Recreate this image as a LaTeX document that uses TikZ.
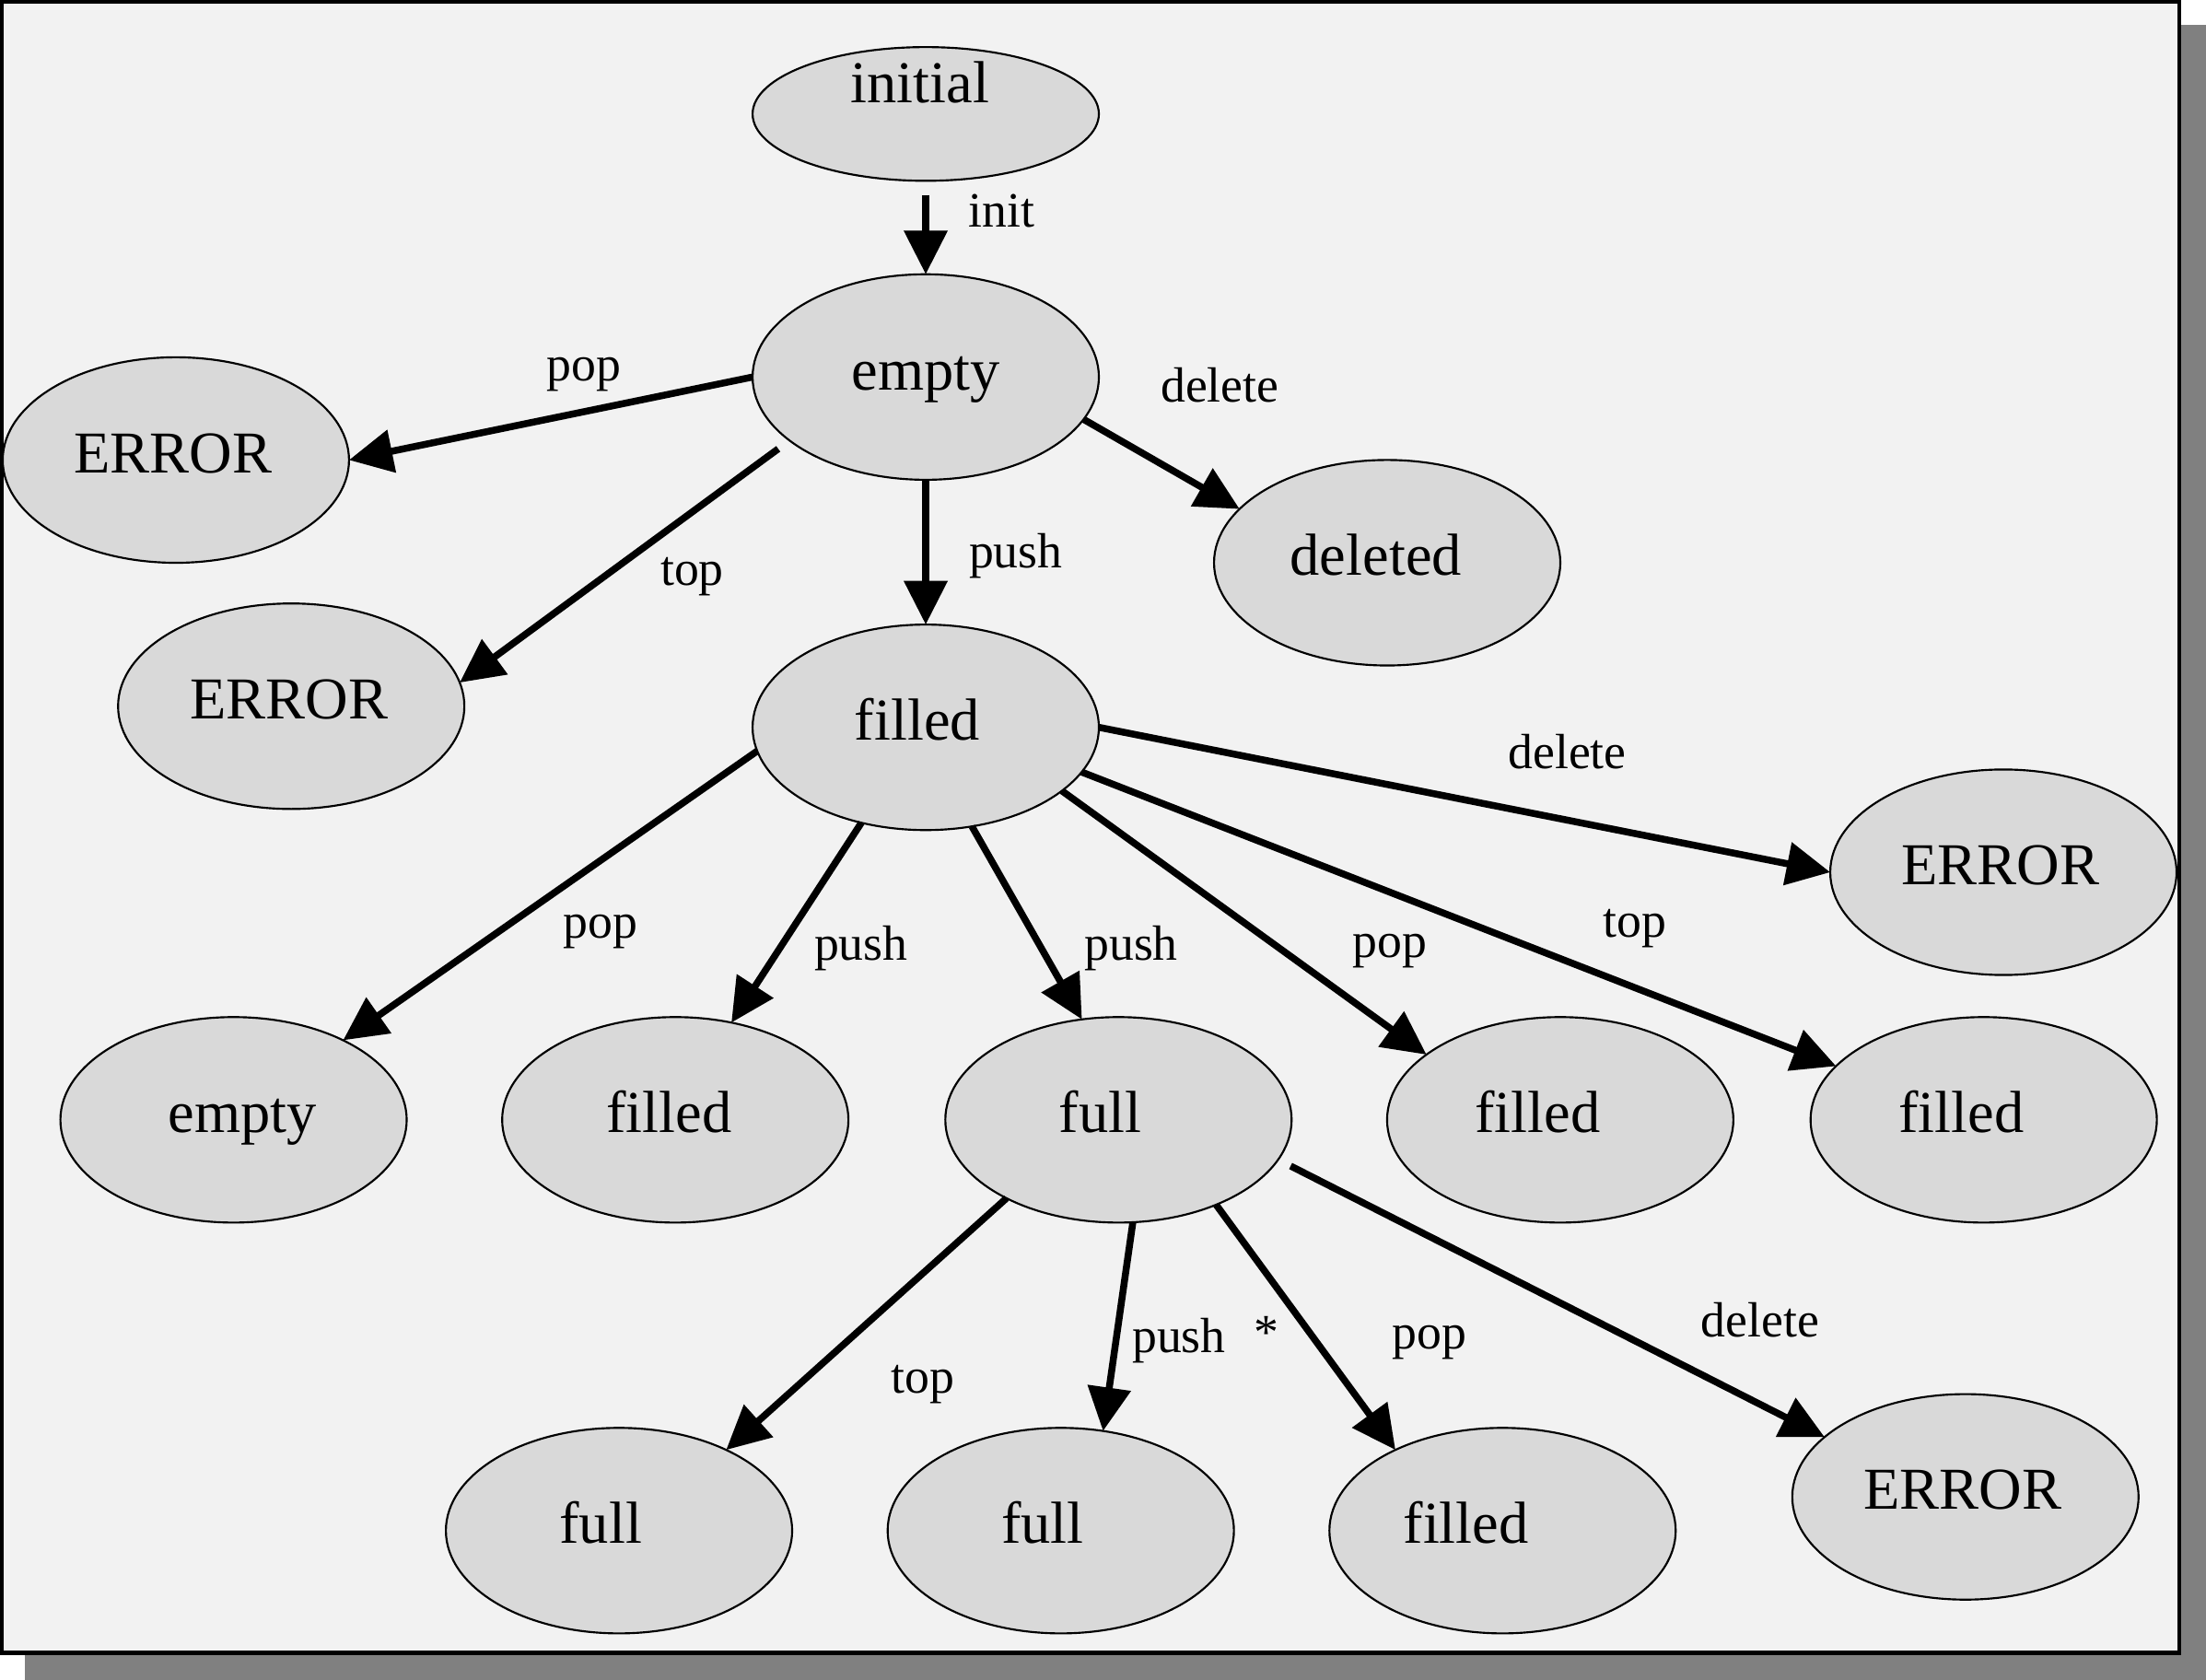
\documentclass[tikz,border=0pt]{standalone}
\usepackage{fontspec}
\setmainfont{Liberation Serif}
\usetikzlibrary{shapes.geometric, arrows.meta}
\definecolor{statefill}{HTML}{D9D9D9}
\definecolor{pagefill}{HTML}{F2F2F2}
\definecolor{shadowgray}{HTML}{808080}
% text moved sideways inside a state
\newcommand{\offtext}[2]{\hspace*{#1}#2\hspace*{-#1}}
\begin{document}
\begin{tikzpicture}[
    x=0.01cm, y=-0.01cm,
    state/.style={ellipse, draw=black, line width=0.4pt, fill=statefill, minimum width=2.46cm, minimum height=1.46cm, inner sep=0pt, outer sep=0pt, text height=0.3cm, text depth=0.12cm, font=\fontsize{12}{14}\selectfont},
    arr/.style={-{Triangle[length=3.1mm, width=3mm]}, line width=1.4pt},
    lbl/.style={inner sep=0pt, font=\fontsize{10}{12}\selectfont}
]
% frame with shadow
\useasboundingbox (0,0) rectangle (1568,1194);
\fill[shadowgray] (18,18) rectangle (1568,1194);
\draw[line width=0.85pt, fill=pagefill] (1,1) rectangle (1549,1175);

% states
\node[state, minimum height=0.95cm, label={[inner sep=0pt, text height=0.3cm, text depth=0.12cm, font=\fontsize{12}{14}\selectfont, xshift=-0.04cm, yshift=0.17cm]center:initial}] (initial) at (658,81) {};
\node[state] (empty) at (658,268) {empty};
\node[state] (error1) at (125,327) {\offtext{-0.02cm}{ERROR}};
\node[state] (error2) at (207,502) {\offtext{-0.015cm}{ERROR}};
\node[state] (deleted) at (986,400) {\offtext{-0.08cm}{deleted}};
\node[state] (filled) at (658,517) {\offtext{-0.06cm}{filled}};
\node[state] (error3) at (1424,620) {\offtext{-0.02cm}{ERROR}};
\node[state] (empty2) at (166,796) {\offtext{0.065cm}{empty}};
\node[state] (filled2) at (480,796) {\offtext{-0.045cm}{filled}};
\node[state] (full) at (795,796) {\offtext{-0.13cm}{full}};
\node[state] (filled3) at (1109,796) {\offtext{-0.16cm}{filled}};
\node[state] (filled4) at (1410,796) {\offtext{-0.16cm}{filled}};
\node[state] (full2) at (440,1088) {\offtext{-0.13cm}{full}};
\node[state] (full3) at (754,1088) {\offtext{-0.13cm}{full}};
\node[state] (filled5) at (1068,1088) {\offtext{-0.26cm}{filled}};
\node[state] (error4) at (1397,1064) {\offtext{-0.02cm}{ERROR}};

% transitions
\draw[arr, shorten <=1mm] (initial) -- (empty);
\draw[arr] (empty.180) -- (error1.0);
\draw[arr, shorten <=1mm] (empty.205) -- (error2.8);
\draw[arr] (empty) -- (filled);
\draw[arr] (empty.-15) -- (deleted.160);
\draw[arr] (filled.0) -- (error3.180);
\draw[arr] (filled.188) -- (empty2.36);
\draw[arr] (filled.236) -- (filled2.60);
\draw[arr] (filled.-65) -- (full.110);
\draw[arr] (filled.-25) -- (filled3.154);
\draw[arr] (filled.-16) -- (filled4.160);
\draw[arr] (full.215) -- (full2.37);
\draw[arr] (full.-82) -- (full3.67);
\draw[arr] (full.-41) -- (filled5.143);
\draw[arr, shorten <=1mm] (full.-14) -- (error4.157);

% labels
\node[lbl] (linit) at (712,150) {init};
\node[lbl] (lpop1) at (415,266) {pop};
\node[lbl] (ldel1) at (867,274) {delete};
\node[lbl] (ltop1) at (492,410) {top};
\node[lbl] (lpush1) at (722,395) {push};
\node[lbl] (ldel2) at (1114,534) {delete};
\node[lbl] (lpop2) at (427,662) {pop};
\node[lbl] (lpush2) at (612,674) {push};
\node[lbl] (lpush3) at (804,674) {push};
\node[lbl] (lpop3) at (988,676) {pop};
\node[lbl] (ltop2) at (1162,660) {top};
\node[lbl] (ltop3) at (656,984) {top};
\node[lbl] (lpush4) at (838,953) {push};
\node[lbl, anchor=base] (lstar) at (900,959) {*};
\node[lbl] (lpop4) at (1016,954) {pop};
\node[lbl] (ldel3) at (1251,938) {delete};
\end{tikzpicture}
\end{document}
